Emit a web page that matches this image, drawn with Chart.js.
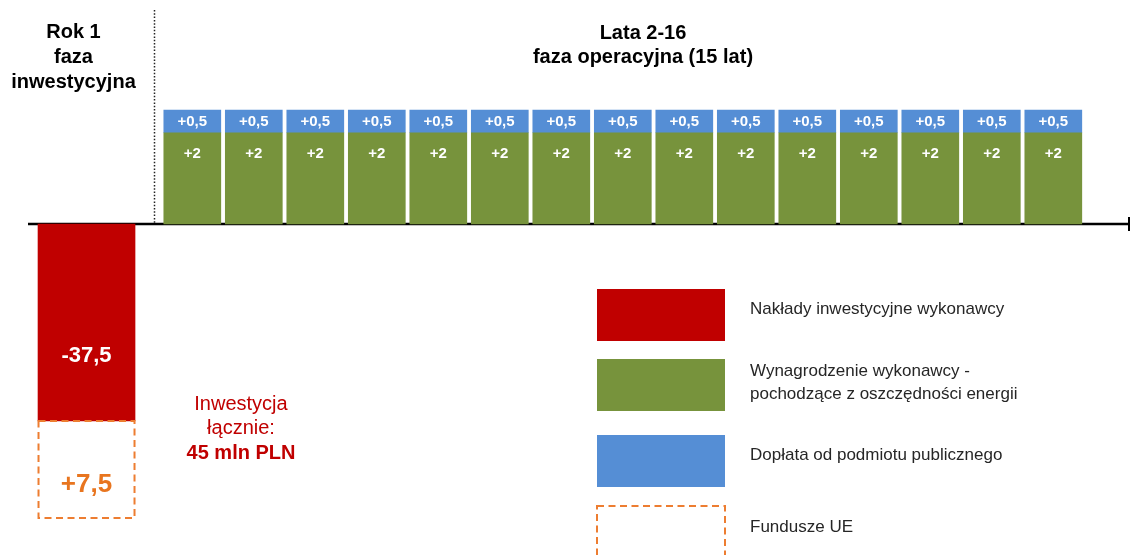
<!DOCTYPE html>
<html>
<head>
<meta charset="utf-8">
<script src="https://cdn.jsdelivr.net/npm/chart.js@4.4.1/dist/chart.umd.min.js"></script>
<style>
  html, body { margin: 0; padding: 0; background: #ffffff; }
  #wrap { width: 1132px; height: 555px; position: relative; }
</style>
</head>
<body>
<div id="wrap"><canvas id="c" width="1132" height="555"></canvas></div>
<script>
// ================= DATA (mln PLN) =================
const investPhaseLabel = ['Rok 1', 'faza', 'inwestycyjna'];
const operationPhaseLabel = ['Lata 2-16', 'faza operacyjna (15 lat)'];
const operationYears = [2, 3, 4, 5, 6, 7, 8, 9, 10, 11, 12, 13, 14, 15, 16];
const investValues = [-37.5];                 // year 1: contractor investment outlay
const euFundValues = [7.5];                   // year 1: EU funds (covering the rest)
const savingsValues = [2, 2, 2, 2, 2, 2, 2, 2, 2, 2, 2, 2, 2, 2, 2];               // contractor pay from savings
const subsidyValues = [0.5, 0.5, 0.5, 0.5, 0.5, 0.5, 0.5, 0.5, 0.5, 0.5, 0.5, 0.5, 0.5, 0.5, 0.5]; // public subsidy
const seriesNames = [
  'Nakłady inwestycyjne wykonawcy',
  'Wynagrodzenie wykonawcy -\npochodzące z oszczędności energii',
  'Dopłata od podmiotu publicznego',
  'Fundusze UE'
];
const totalLabel = ['Inwestycja', 'łącznie:'];

// ================= LAYOUT / STYLE =================
const FONT = '"Liberation Sans", Arial, Helvetica, sans-serif';
const COLORS = { red: '#C00000', green: '#77933C', blue: '#558ED5', orange: '#ED7D31', orangeText: '#E8751F' };
const INVEST_COLUMN_X = 0.28;   // centre of the wider investment-phase column on the year axis
const PHASE_DIVIDER_X = 1.38;   // dotted divider between the two phases, on the year axis

const fmt = v => (v > 0 ? '+' : '') + String(v).replace('.', ',');
const totalInvestment = Math.abs(investValues[0]) + euFundValues[0];

const datasets = [
  {
    label: seriesNames[0],
    data: investValues.map(v => ({ x: INVEST_COLUMN_X, y: v })),
    yAxisID: 'yNeg',
    backgroundColor: COLORS.red,
    barThickness: 97,
    stack: 'all',
    valueText: investValues.map(fmt),
    labelFrac: 0.67, labelFont: 'bold 22px ' + FONT, labelColor: '#ffffff',
    legendSwatch: 'fill'
  },
  {
    label: seriesNames[1],
    data: operationYears.map((yr, i) => ({ x: yr, y: savingsValues[i] })),
    yAxisID: 'yPos',
    backgroundColor: COLORS.green,
    barThickness: 57,
    stack: 'all',
    valueText: savingsValues.map(fmt),
    labelFrac: 0.23, labelFont: 'bold 15px ' + FONT, labelColor: '#ffffff',
    legendSwatch: 'fill'
  },
  {
    label: seriesNames[2],
    data: operationYears.map((yr, i) => ({ x: yr, y: subsidyValues[i] })),
    yAxisID: 'yPos',
    backgroundColor: COLORS.blue,
    barThickness: 57,
    stack: 'all',
    valueText: subsidyValues.map(fmt),
    labelFrac: 0.5, labelFont: 'bold 15px ' + FONT, labelColor: '#ffffff',
    legendSwatch: 'fill'
  },
  {
    label: seriesNames[3],
    data: euFundValues.map((v, i) => ({ x: INVEST_COLUMN_X, y: [investValues[i], investValues[i] - v] })),
    yAxisID: 'yEU',
    backgroundColor: 'rgba(255,255,255,0)',
    barThickness: 96,
    stack: 'all',
    valueText: euFundValues.map(fmt),
    labelFrac: 0.66, labelFont: 'bold 26px ' + FONT, labelColor: COLORS.orangeText,
    dashedOutline: COLORS.orange,
    legendSwatch: 'dashed'
  }
];

// ================= PLUGINS =================
const schematicPlugin = {
  id: 'schematic',
  beforeDatasetsDraw(chart) {
    const { ctx, chartArea } = chart;
    const y0 = chart.scales.yPos.getPixelForValue(0);
    ctx.save();
    ctx.strokeStyle = '#000';
    ctx.lineWidth = 2.5;
    ctx.beginPath(); ctx.moveTo(chartArea.left, y0); ctx.lineTo(chartArea.right, y0); ctx.stroke();
    ctx.lineWidth = 2;
    ctx.beginPath(); ctx.moveTo(chartArea.right - 1, y0 - 7); ctx.lineTo(chartArea.right - 1, y0 + 7); ctx.stroke();
    const xd = Math.round(chart.scales.x.getPixelForValue(PHASE_DIVIDER_X)) + 0.5;
    ctx.setLineDash([1.5, 1.8]);
    ctx.lineWidth = 1.5;
    ctx.strokeStyle = '#222';
    ctx.beginPath(); ctx.moveTo(xd, 10); ctx.lineTo(xd, y0); ctx.stroke();
    ctx.restore();
  },
  afterDatasetsDraw(chart) {
    const ctx = chart.ctx;
    ctx.save();
    chart.data.datasets.forEach((ds, di) => {
      const meta = chart.getDatasetMeta(di);
      meta.data.forEach((el, i) => {
        const p = el.getProps(['x', 'y', 'base', 'width'], true);
        const top = Math.min(p.y, p.base), bottom = Math.max(p.y, p.base);
        if (ds.dashedOutline) {
          ctx.save();
          ctx.strokeStyle = ds.dashedOutline;
          ctx.lineWidth = 2;
          ctx.setLineDash([7, 4.5]);
          ctx.strokeRect(p.x - p.width / 2, top, p.width, bottom - top);
          ctx.restore();
        }
        ctx.fillStyle = ds.labelColor;
        ctx.font = ds.labelFont;
        ctx.textAlign = 'center';
        ctx.textBaseline = 'middle';
        ctx.fillText(ds.valueText[i], p.x, top + (bottom - top) * ds.labelFrac);
      });
    });
    ctx.restore();
  },
  afterDraw(chart) {
    const ctx = chart.ctx;
    ctx.save();
    ctx.textAlign = 'center';
    ctx.textBaseline = 'middle';
    // phase headers
    ctx.fillStyle = '#000';
    ctx.font = 'bold 20px ' + FONT;
    investPhaseLabel.forEach((t, i) => ctx.fillText(t, 73.5, 32 + i * 25));
    operationPhaseLabel.forEach((t, i) => ctx.fillText(t, 643, 33 + i * 24));
    // total investment note
    ctx.fillStyle = COLORS.red;
    ctx.font = '20px ' + FONT;
    totalLabel.forEach((t, i) => ctx.fillText(t, 241, 404 + i * 24.5));
    ctx.font = 'bold 20px ' + FONT;
    ctx.fillText(String(totalInvestment).replace('.', ',') + ' mln PLN', 241, 453);
    // legend
    const lg = chart.options.plugins.schematic;
    chart.data.datasets.forEach((ds, di) => {
      const top = lg.swatchTops[di];
      if (ds.legendSwatch === 'dashed') {
        ctx.save();
        ctx.strokeStyle = ds.dashedOutline;
        ctx.lineWidth = 2;
        ctx.setLineDash([7, 4.5]);
        ctx.strokeRect(lg.swatchLeft, top, lg.swatchW, lg.swatchH);
        ctx.restore();
      } else {
        ctx.fillStyle = ds.backgroundColor;
        ctx.fillRect(lg.swatchLeft, top, lg.swatchW, lg.swatchH);
      }
      ctx.fillStyle = '#262626';
      ctx.font = lg.fontSize + 'px ' + FONT;
      ctx.textAlign = 'left';
      const lines = ds.label.split('\n');
      lines.forEach((t, li) => ctx.fillText(t, lg.textLeft, lg.textMid[di] - (lines.length - 1) * lg.lineH / 2 + li * lg.lineH));
    });
    ctx.restore();
  }
};

// ================= CHART =================
new Chart(document.getElementById('c'), {
  type: 'bar',
  data: { datasets },
  plugins: [schematicPlugin],
  options: {
    responsive: false,
    animation: false,
    layout: { padding: { left: 28, right: 2, top: 100, bottom: 25 } },
    plugins: {
      legend: { display: false },
      tooltip: { enabled: false },
      schematic: {
        swatchLeft: 597, swatchW: 128, swatchH: 52,
        swatchTops: [289, 359, 435, 506],
        textLeft: 750, textMid: [309, 382.5, 455, 527], lineH: 23, fontSize: 17
      }
    },
    scales: {
      x: { type: 'linear', display: false, offset: false, stacked: true, min: -0.6715, max: 17.247 },
      yPos: { type: 'linear', display: false, stacked: true, min: -6.711, max: 2.719 },
      yNeg: { type: 'linear', display: false, stacked: false, min: -58.25, max: 23.6 },
      yEU: { type: 'linear', display: false, stacked: false, min: -45.93, max: -12.68 }
    }
  }
});
</script>
</body>
</html>
